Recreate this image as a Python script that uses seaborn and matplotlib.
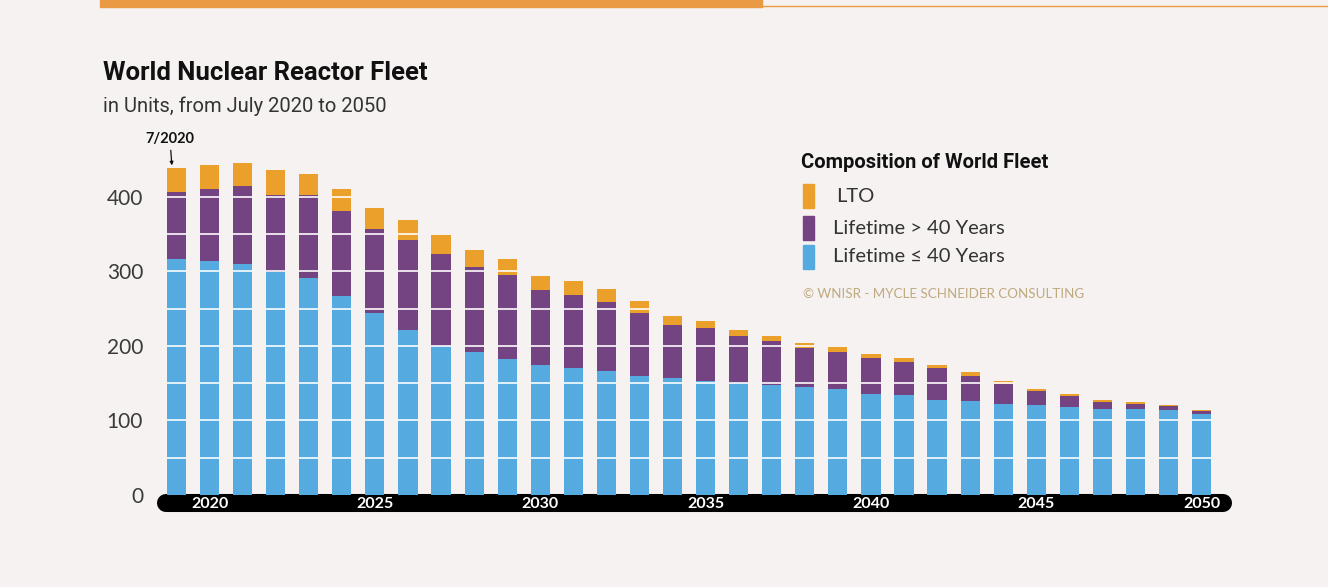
import matplotlib
matplotlib.use("Agg")
import matplotlib.pyplot as plt
import seaborn as sns
from matplotlib.patches import Rectangle
from matplotlib.lines import Line2D

# categories: first bar is the July 2020 status, then year-end 2020..2050
categories = ["7/2020"] + [str(y) for y in range(2020, 2051)]
tick_years = ["2020", "2025", "2030", "2035", "2040", "2045", "2050"]

lifetime_le40 = [316, 314, 310, 299, 291, 267, 244, 221, 200, 192, 182, 174, 170, 166, 160, 157,
                 153, 150, 147, 145, 142, 135, 134, 127, 126, 122, 121, 118, 115, 115, 114, 109]
lifetime_gt40 = [90, 96, 104, 104, 111, 114, 113, 121, 123, 114, 113, 101, 98, 93, 84, 71,
                 71, 63, 59, 52, 50, 49, 44, 43, 34, 27, 18, 15, 10, 7, 5, 4]
lto = [32, 32, 31, 33, 28, 29, 28, 27, 26, 22, 21, 19, 19, 17, 16, 12,
       9, 8, 7, 7, 6, 5, 6, 4, 5, 4, 3, 2, 2, 3, 2, 1]

BLUE = "#55aadf"
PURPLE = "#744482"
ORANGE = "#eaa02a"
BG = "#f6f2f1"
W, H = 1328, 587
BAR_W = 0.58

sns.set_theme(style="white")
plt.rcParams["font.family"] = ["Lato", "DejaVu Sans"]
narrow = ["Roboto", "DejaVu Sans"]

def fx(x):
    return x / W

def fy(y):
    return 1 - y / H

fig = plt.figure(figsize=(W / 100, H / 100), dpi=100, facecolor=BG)
ax = fig.add_axes([fx(157), fy(495), fx(1232) - fx(157), (495 - 152) / H])
ax.set_facecolor("none")

mid = [a + b for a, b in zip(lifetime_le40, lifetime_gt40)]
top = [a + b for a, b in zip(mid, lto)]

sns.barplot(x=categories, y=top, order=categories, color=ORANGE, saturation=1,
            width=BAR_W, linewidth=0, ax=ax)
sns.barplot(x=categories, y=mid, order=categories, color=PURPLE, saturation=1,
            width=BAR_W, linewidth=0, ax=ax)
sns.barplot(x=categories, y=lifetime_le40, order=categories, color=BLUE, saturation=1,
            width=BAR_W, linewidth=0, ax=ax)

# white grid lines, only visible across the bars
for i, t in enumerate(top):
    levels = [v for v in range(50, 401, 50) if v < t]
    ax.hlines(levels, i - BAR_W / 2, i + BAR_W / 2, color="white", lw=1.3, alpha=0.9, zorder=3)

ax.set_ylim(0, 460)
ax.set_xlim(-0.59, 31.92)
ax.set_yticks([0, 100, 200, 300, 400])
ax.set_yticklabels(["0", "100", "200", "300", "400"], fontsize=15, color="#3a3a3a")
ax.set_xticks([categories.index(y) for y in tick_years])
ax.set_xticklabels(tick_years, fontsize=11.5, color="white", fontweight="bold")
ax.tick_params(axis="y", length=0, pad=10)
ax.tick_params(axis="x", length=0, pad=1.2)
ax.set_xlabel("")
ax.set_ylabel("")
sns.despine(ax=ax, left=True, bottom=True)

# black rounded axis band (under the tick labels)
ax.plot([0.0084, 0.9916], [-8 / 343, -8 / 343], transform=ax.transAxes, color="black",
        lw=13, solid_capstyle="round", clip_on=False, zorder=0.2)

ax.annotate("7/2020", xy=(-0.14, 442), xytext=(-0.2, 478), ha="center", va="center",
            fontsize=10.5, fontweight="bold", color="#111111", annotation_clip=False,
            arrowprops=dict(arrowstyle="-|>", color="#111111", lw=0.9, mutation_scale=5,
                            shrinkA=1, shrinkB=0))

fig.text(fx(103), fy(73), "World Nuclear Reactor Fleet", fontsize=18.5, fontweight="bold",
         family=narrow, color="#111111", va="center")
fig.text(fx(103), fy(106), "in Units, from July 2020 to 2050", fontsize=14.5, family=narrow,
         color="#333333", va="center")

# legend
fig.text(fx(801), fy(163), "Composition of World Fleet", fontsize=14.5, fontweight="bold",
         family=narrow, color="#111111", va="center")
legend_items = [("LTO", ORANGE, 196, 836), ("Lifetime > 40 Years", PURPLE, 228, 833),
                ("Lifetime \u2264 40 Years", BLUE, 257, 833)]
for label, col, yc, xt in legend_items:
    fig.add_artist(Rectangle((fx(803), fy(yc + 12)), 11 / W, 24 / H, color=col,
                             transform=fig.transFigure))
    fig.text(fx(xt), fy(yc), label, fontsize=14.5, color="#333333", va="center")
fig.text(fx(803), fy(294), "\u00a9 WNISR - MYCLE SCHNEIDER CONSULTING", fontsize=9.6,
         color="#bfa97f", va="center")

# header band
fig.add_artist(Rectangle((fx(100), fy(7)), (762 - 100) / W, 7 / H, color="#e99a43",
                         transform=fig.transFigure))
fig.add_artist(Line2D([fx(762), 1], [fy(6), fy(6)], color="#e99a43", lw=1,
                      transform=fig.transFigure))

fig.savefig("out.png", dpi=100, facecolor=BG)
